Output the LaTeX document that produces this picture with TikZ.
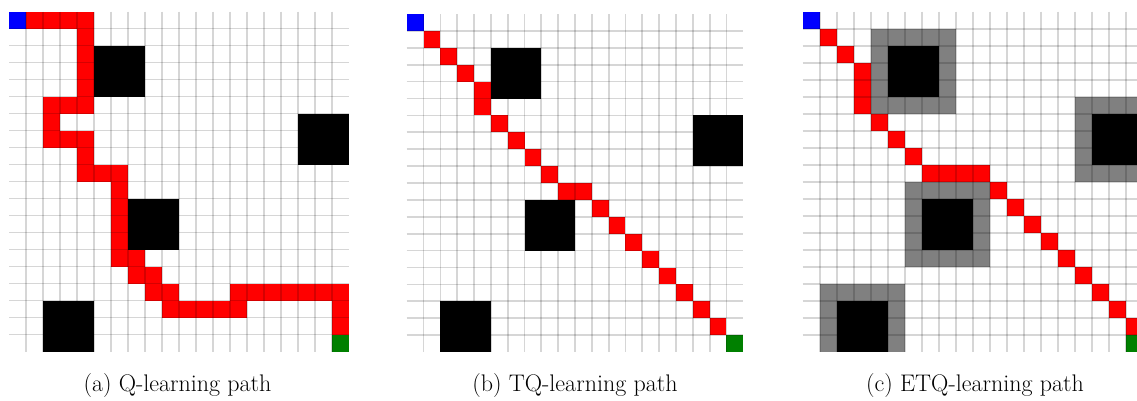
\documentclass[tikz,border=0pt]{standalone}
\usepackage{fontspec}
\setmainfont{Latin Modern Roman}
\begin{document}
\begin{tikzpicture}[x=1pt,y=-1pt]
\tikzset{
  obst/.style={fill=black},
  nearzone/.style={fill=black!50},
  pathcell/.style={fill=red},
  startcell/.style={fill=blue},
  goalcell/.style={fill=green!50!black},
  gridline/.style={draw=black, draw opacity=0.16, line width=1.7pt},
  captext/.style={anchor=base, inner sep=0pt, font=\fontsize{24}{28}\selectfont}
}
\useasboundingbox (0,0) rectangle (1137,400);
\clip (0,0) rectangle (1137,400);
\fill[white] (0,0) rectangle (1137,400);

% ---------- (a) Q-learning ----------
\begin{scope}[shift={(9,11.5)}, x=17pt, y=-17pt]
  \foreach \c/\r in {5/2,17/6,7/11,2/17} \fill[obst] (\c,\r) rectangle ++(3,3);
  \foreach \c/\r in {1/0,2/0,3/0,4/0, 4/1,4/2,4/3,4/4, 2/5,3/5,4/5, 2/6, 2/7,3/7,4/7, 4/8,
                     4/9,5/9,6/9, 6/10,6/11,6/12,6/13,6/14, 7/14, 7/15,8/15, 8/16,9/16,
                     13/16,14/16,15/16,16/16,17/16,18/16,19/16,
                     9/17,10/17,11/17,12/17,13/17, 19/17, 19/18}
    \fill[pathcell] (\c,\r) rectangle ++(1,1);
  \fill[startcell] (0,0) rectangle ++(1,1);
  \fill[goalcell] (19,19) rectangle ++(1,1);
  \foreach \k in {1,...,19} {
    \draw[gridline] (\k,0) -- (\k,20);
    \draw[gridline] (0,\k) -- (20,\k);
  }
\end{scope}

% ---------- (b) TQ-learning ----------
\begin{scope}[shift={(406.7,14)}, x=16.83pt, y=-16.9pt]
  \foreach \c/\r in {5/2,17/6,7/11,2/17} \fill[obst] (\c,\r) rectangle ++(3,3);
  \foreach \c/\r in {1/1,2/2,3/3,4/4,4/5,5/6,6/7,7/8,8/9,9/10,10/10,
                     11/11,12/12,13/13,14/14,15/15,16/16,17/17,18/18}
    \fill[pathcell] (\c,\r) rectangle ++(1,1);
  \fill[startcell] (0,0) rectangle ++(1,1);
  \fill[goalcell] (19,19) rectangle ++(1,1);
  \foreach \k in {1,...,19} {
    \draw[gridline] (\k,0) -- (\k,20);
    \draw[gridline] (0,\k) -- (20,\k);
  }
\end{scope}

% ---------- (c) ETQ-learning ----------
\begin{scope}[shift={(802.7,11.7)}, x=17pt, y=-17pt]
  \begin{scope}
    \clip (0,0) rectangle (20,20);
    \foreach \c/\r in {5/2,17/6,7/11,2/17} {
      \fill[nearzone] (\c-1,\r-1) rectangle ++(5,5);
      \fill[obst] (\c,\r) rectangle ++(3,3);
    }
  \end{scope}
  \foreach \c/\r in {1/1,2/2,3/3,3/4,3/5,4/6,5/7,6/8,7/9,8/9,9/9,10/9,
                     11/10,12/11,13/12,14/13,15/14,16/15,17/16,18/17,19/18}
    \fill[pathcell] (\c,\r) rectangle ++(1,1);
  \fill[startcell] (0,0) rectangle ++(1,1);
  \fill[goalcell] (19,19) rectangle ++(1,1);
  \foreach \k in {1,...,19} {
    \draw[gridline] (\k,0) -- (\k,20);
    \draw[gridline] (0,\k) -- (20,\k);
  }
\end{scope}

% ---------- captions ----------
\node[captext] (capa) at (177.5,391) {(a) Q-learning path};
\node[captext] (capb) at (575,391) {(b) TQ-learning path};
\node[captext] (capc) at (975,391) {(c) ETQ-learning path};
\end{tikzpicture}
\end{document}
